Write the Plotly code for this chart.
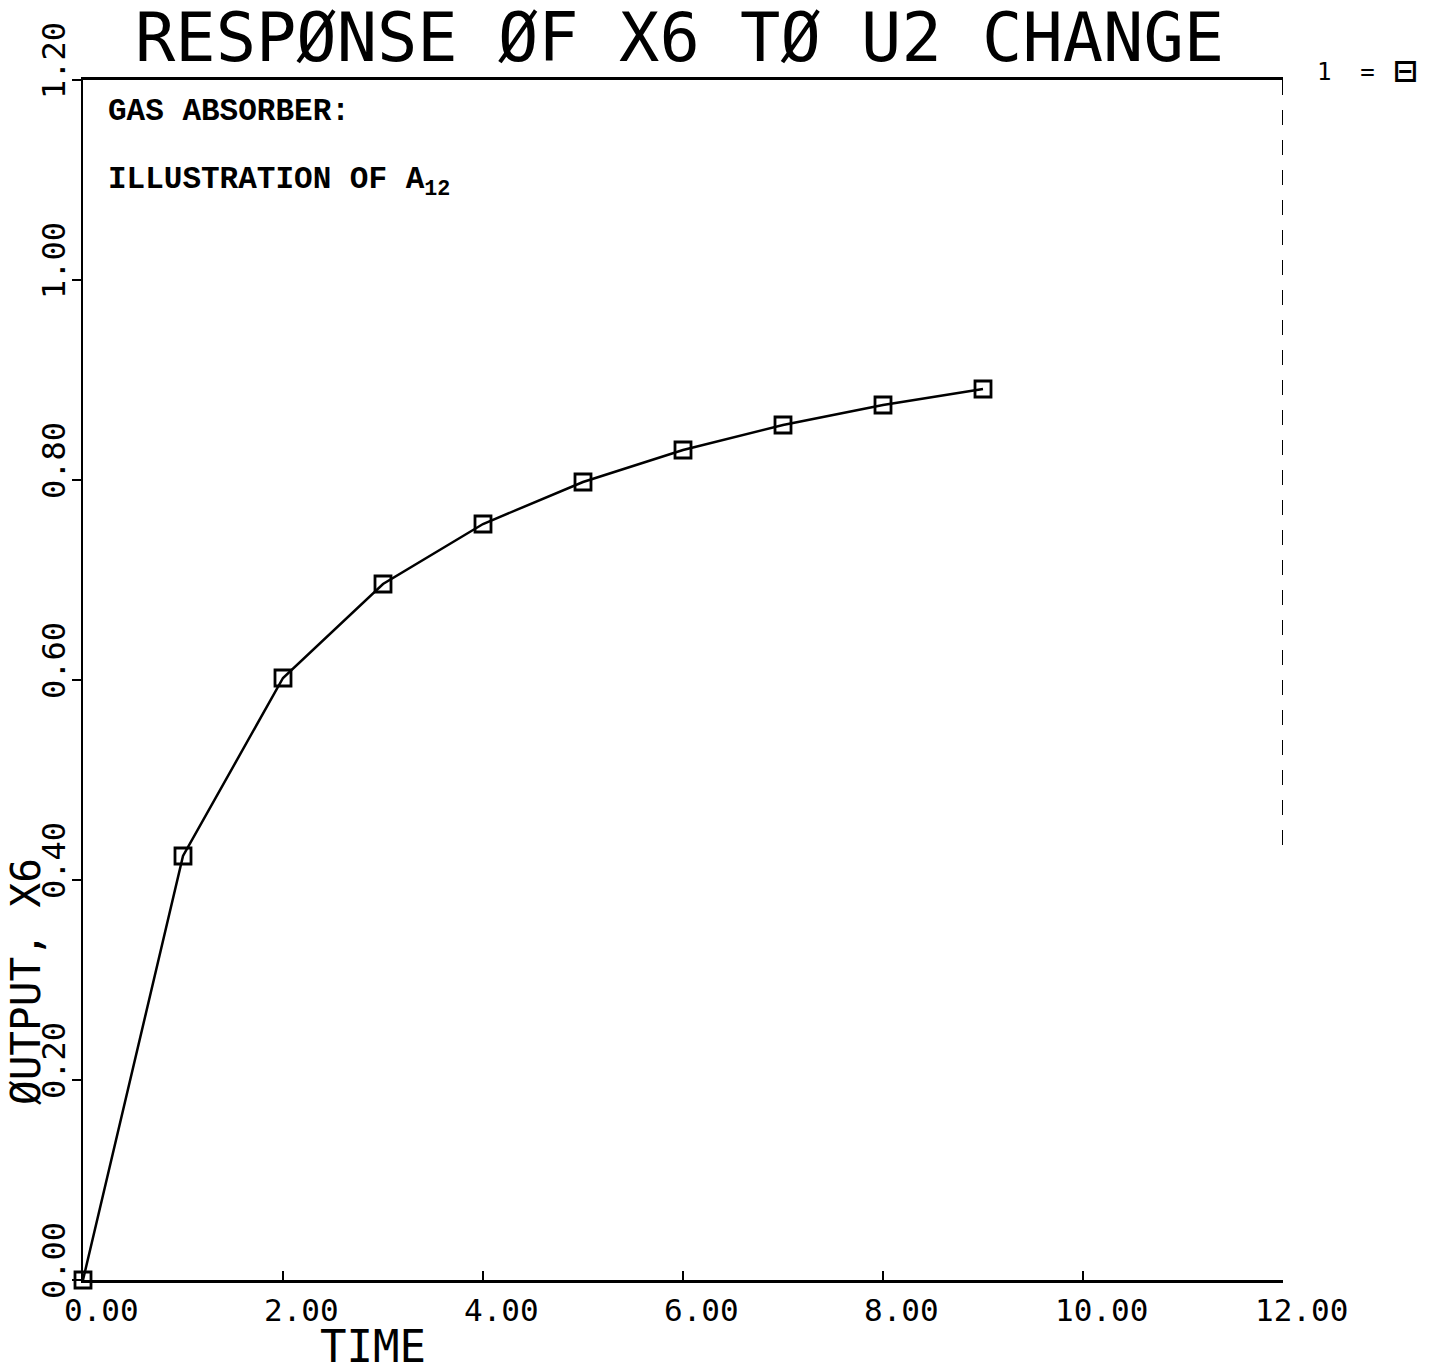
import plotly.graph_objects as go

# ---- data ----
time = [0, 1, 2, 3, 4, 5, 6, 7, 8, 9]
x6 = [0.0, 0.424, 0.602, 0.696, 0.756, 0.798, 0.830, 0.855, 0.875, 0.891]

x_ticks = [0, 2, 4, 6, 8, 10, 12]
x_tick_labels = ["0.00", "2.00", "4.00", "6.00", "8.00", "10.00", "12.00"]
y_ticks = [0.0, 0.2, 0.4, 0.6, 0.8, 1.0, 1.2]
y_tick_labels = ["0.00", "0.20", "0.40", "0.60", "0.80", "1.00", "1.20"]

title_text = "RESPØNSE ØF X6 TØ U2 CHANGE"
x_title = "TIME"
y_title = "ØUTPUT, X6"

# page body has an 8px margin, so the figure is drawn at (8, 8)
OFF = 8
W, H = 1432 - OFF, 1371 - OFF
PLOT_L, PLOT_T, PLOT_R, PLOT_B = 83, 80, 1283, 1280   # target pixel box in the window
L, T = PLOT_L - OFF, PLOT_T - OFF
PW, PH = PLOT_R - PLOT_L, PLOT_B - PLOT_T
R, B = W - L - PW, H - T - PH

def px(xp):
    return (xp - PLOT_L) / PW

def py(yp):
    return (PLOT_B - yp) / PH

MONO = "DejaVu Sans Mono"
SERIF = "Liberation Mono"

fig = go.Figure()
fig.add_trace(go.Scatter(
    x=time, y=x6, mode="lines+markers",
    line=dict(color="black", width=2.5),
    marker=dict(symbol="square-open", size=16, color="black", line=dict(width=2.8, color="black")),
    cliponaxis=False, showlegend=False,
))

annotations = []
# x tick labels
for v, lab in zip(x_ticks, x_tick_labels):
    annotations.append(dict(x=v, y=0, xref="x", yref="y", text=lab, showarrow=False,
                            xanchor="center", yanchor="middle", xshift=18, yshift=-30,
                            font=dict(family=MONO, size=31, color="black")))
# y tick labels (rotated)
for v, lab in zip(y_ticks, y_tick_labels):
    annotations.append(dict(x=px(54), y=v, xref="paper", yref="y", text=lab, showarrow=False,
                            textangle=-90, xanchor="center", yanchor="middle", yshift=19,
                            font=dict(family=MONO, size=32, color="black")))
# title
annotations.append(dict(x=px(679), y=py(38), xref="paper", yref="paper", text=title_text,
                        showarrow=False, xanchor="center", yanchor="middle",
                        font=dict(family=MONO, size=67, color="black")))
# axis titles
annotations.append(dict(x=px(373), y=py(1346), xref="paper", yref="paper", text=x_title,
                        showarrow=False, xanchor="center", yanchor="middle",
                        font=dict(family=MONO, size=44, color="black")))
annotations.append(dict(x=px(26), y=py(982), xref="paper", yref="paper", text=y_title,
                        showarrow=False, textangle=-90, xanchor="center", yanchor="middle",
                        font=dict(family=MONO, size=41, color="black")))
# in-plot labels
annotations.append(dict(x=px(106), y=py(112), xref="paper", yref="paper", text="<b>GAS ABSORBER:</b>",
                        showarrow=False, xanchor="left", yanchor="middle",
                        font=dict(family=SERIF, size=31, color="black")))
annotations.append(dict(x=px(106), y=py(182), xref="paper", yref="paper",
                        text="<b>ILLUSTRATION OF A<sub>12</sub></b>",
                        showarrow=False, xanchor="left", yanchor="middle",
                        font=dict(family=SERIF, size=31, color="black")))
# legend key
annotations.append(dict(x=px(1346), y=py(72), xref="paper", yref="paper", text="1  =",
                        showarrow=False, xanchor="center", yanchor="middle",
                        font=dict(family=MONO, size=24, color="black")))
annotations.append(dict(x=px(1405), y=py(71), xref="paper", yref="paper", text="<b>⊟</b>",
                        showarrow=False, xanchor="center", yanchor="middle",
                        font=dict(family="DejaVu Sans", size=30, color="black")))

fig.update_layout(
    width=W, height=H,
    margin=dict(l=L, r=R, t=T, b=B),
    paper_bgcolor="white", plot_bgcolor="white",
    annotations=annotations,
    xaxis=dict(range=[0, 12], tickvals=x_ticks, showticklabels=False, ticks="inside",
               ticklen=9, tickwidth=2, tickcolor="black", showgrid=False, zeroline=False,
               showline=True, linecolor="black", linewidth=3, mirror=True),
    yaxis=dict(range=[0, 1.2], tickvals=y_ticks, showticklabels=False, ticks="outside",
               ticklen=9, tickwidth=2, tickcolor="black", showgrid=False, zeroline=False,
               showline=True, linecolor="black", linewidth=2),
    shapes=[dict(type="line", xref="x", yref="y", x0=12, x1=12, y0=1.2, y1=0.42,
                 line=dict(color="black", width=2, dash="longdash"))],
)

fig.write_html("out.html")
